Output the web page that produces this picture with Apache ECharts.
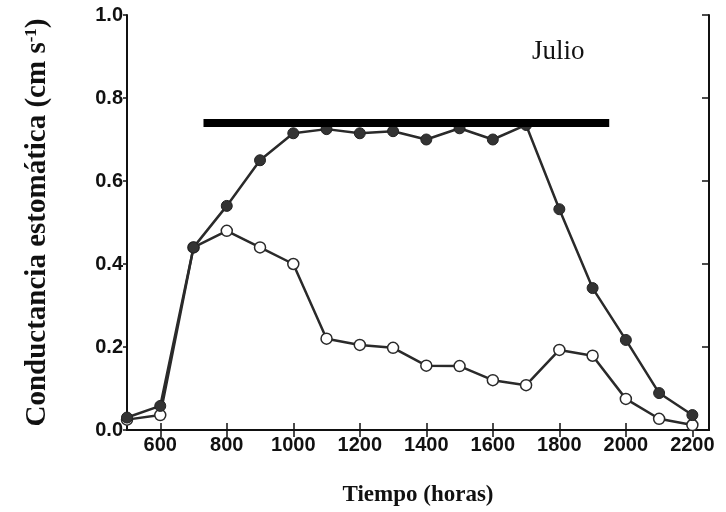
<!DOCTYPE html>
<html><head><meta charset="utf-8">
<script src="https://cdn.jsdelivr.net/npm/echarts@6/dist/echarts.min.js"></script>
<style>html,body{margin:0;padding:0;background:#fff}#c{width:726px;height:512px}</style>
</head><body><div id="c"></div>
<script>
const hours = [500,600,700,800,900,1000,1100,1200,1300,1400,1500,1600,1700,1800,1900,2000,2100,2200];
const filledVals = [0.03,0.058,0.44,0.54,0.65,0.715,0.725,0.715,0.72,0.70,0.727,0.70,0.735,0.532,0.342,0.217,0.089,0.036];
const openVals = [0.025,0.036,0.44,0.48,0.44,0.40,0.22,0.205,0.198,0.155,0.154,0.12,0.108,0.193,0.179,0.075,0.027,0.012];
const barX = [730,1950];
const barY = [0.74,0.74];
const xTicks = [600,800,1000,1200,1400,1600,1800,2000,2200];

const chart = echarts.init(document.getElementById('c'));
const axisLineStyle = {color:'#111', width:2};
const labelFont = {fontFamily:'Liberation Sans', fontWeight:'bold', fontSize:20, color:'#111'};
chart.setOption({
  animation:false,
  grid:{left:127, right:17, top:15, bottom:80},
  xAxis:[{
    type:'value', min:500, max:2250, position:'bottom',
    axisLine:{lineStyle:axisLineStyle},
    axisTick:{inside:true, length:7, customValues:xTicks, lineStyle:{color:'#111', width:1.5}},
    axisLabel:Object.assign({customValues:xTicks, margin:5, formatter:v=>String(v)}, labelFont),
    splitLine:{show:false},
    name:'Tiempo (horas)', nameLocation:'middle', nameGap:54,
    nameTextStyle:{fontFamily:'Liberation Serif', fontWeight:'bold', fontSize:23, color:'#111'}
  },{
    type:'value', min:500, max:2250, position:'top',
    axisLine:{lineStyle:axisLineStyle},
    axisTick:{inside:true, length:7, customValues:xTicks, lineStyle:{color:'#111', width:1.5}},
    axisLabel:{show:false}, splitLine:{show:false}
  }],
  yAxis:[{
    type:'value', min:0, max:1, interval:0.2, position:'left',
    axisLine:{show:true, lineStyle:axisLineStyle},
    axisTick:{show:true, inside:false, length:4, lineStyle:{color:'#111', width:1.5}},
    axisLabel:Object.assign({margin:4, formatter:v=>v.toFixed(1)}, labelFont),
    splitLine:{show:false},
    name:'Conductancia estomática (cm s{sup|-1})', nameLocation:'middle', nameGap:74,
    nameTextStyle:{fontFamily:'Liberation Serif', fontWeight:'bold', fontSize:29, color:'#111',
      rich:{sup:{fontFamily:'Liberation Serif', fontWeight:'bold', fontSize:17, verticalAlign:'top', padding:[0,0,13,0]}}}
  },{
    type:'value', min:0, max:1, interval:0.2, position:'right',
    axisLine:{show:true, lineStyle:axisLineStyle},
    axisTick:{show:true, inside:true, length:7, lineStyle:{color:'#111', width:1.5}},
    axisLabel:{show:false}, splitLine:{show:false}
  }],
  series:[
    {type:'line', data:hours.map((h,i)=>[h,openVals[i]]), symbol:'circle', symbolSize:11,
     lineStyle:{color:'#2a2a2a', width:2.5}, itemStyle:{color:'#fff', borderColor:'#2a2a2a', borderWidth:1.5}, z:2},
    {type:'line', data:hours.map((h,i)=>[h,filledVals[i]]), symbol:'circle', symbolSize:11,
     lineStyle:{color:'#2a2a2a', width:2.5}, itemStyle:{color:'#333', borderColor:'#222', borderWidth:1}, z:3},
    {type:'line', data:barX.map((x,i)=>[x,barY[i]]), symbol:'none',
     lineStyle:{color:'#000', width:8, cap:'butt'}, z:4}
  ],
  graphic:[{type:'text', left:532, top:38, style:{text:'Julio', font:'27px "Liberation Serif"', fill:'#111'}}]
});
</script></body></html>
